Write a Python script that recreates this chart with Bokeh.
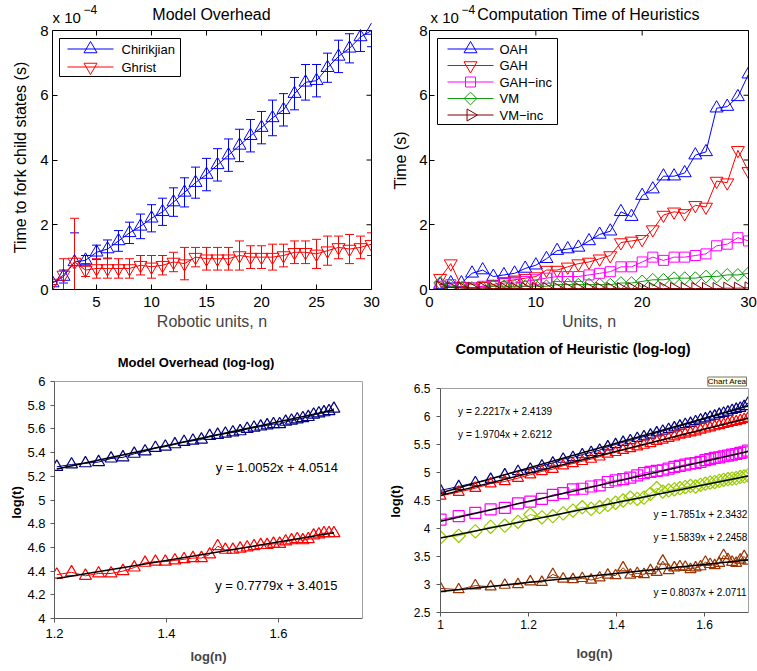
import math
from bokeh.plotting import figure
from bokeh.models import (ColumnDataSource, Whisker, TeeHead, Label, LinearAxis,
                          FixedTicker, CustomJSTickFormatter, Range1d)
from bokeh.layouts import column, row
from bokeh.embed import file_html
from bokeh.resources import INLINE

FONT = "Liberation Sans"

# ---------------- Model overhead (time in units of 1e-4 s) ----------------
units = list(range(1, 31))
chirikjian = [0.2, 0.4, 0.85, 0.9, 1.15, 1.25, 1.5, 1.75, 1.95, 2.2,
              2.4, 2.7, 3.0, 3.3, 3.55, 3.85, 4.15, 4.45, 4.75, 5.0,
              5.3, 5.55, 6.05, 6.4, 6.45, 6.85, 7.2, 7.45, 7.8, 8.0]
chirikjian_err = [0.05, 0.2, 0.9, 0.15, 0.22, 0.28, 0.32, 0.33, 0.38, 0.42,
                  0.42, 0.44, 0.45, 0.48, 0.5, 0.5, 0.5, 0.5, 0.5, 0.5,
                  0.55, 0.5, 0.5, 0.55, 0.5, 0.45, 0.5, 0.45, 0.45, 0.5]
ghrist = [0.2, 0.45, 0.85, 0.6, 0.65, 0.65, 0.65, 0.65, 0.75, 0.7,
          0.75, 0.85, 0.8, 1.0, 0.95, 0.95, 0.95, 1.05, 1.0, 1.0,
          1.0, 1.05, 1.15, 1.15, 1.1, 1.2, 1.3, 1.25, 1.3, 1.4]
ghrist_err = [0.05, 0.5, 1.35, 0.2, 0.3, 0.3, 0.3, 0.3, 0.3, 0.35,
              0.3, 0.3, 0.5, 0.3, 0.35, 0.35, 0.35, 0.45, 0.35, 0.35,
              0.4, 0.35, 0.35, 0.35, 0.45, 0.45, 0.35, 0.45, 0.35, 0.35]

# ---------------- Heuristic computation time (units of 1e-4 s) ----------------
oah = [0.15, 0.2, 0.2, 0.5, 0.6, 0.4, 0.45, 0.5, 0.65, 0.75,
       0.95, 1.2, 1.25, 1.3, 1.5, 1.7, 1.8, 2.4, 2.25, 2.9,
       3.1, 3.5, 3.5, 3.6, 4.15, 4.25, 5.6, 5.65, 5.95, 6.65]
gah = [0.35, 0.8, 0.1, 0.05, 0.1, 0.15, 0.25, 0.3, 0.35, 0.4,
       0.6, 0.6, 0.7, 0.8, 0.85, 0.95, 1.05, 1.45, 1.5, 1.55,
       1.85, 2.3, 2.4, 2.35, 2.6, 2.55, 3.35, 3.3, 4.3, 3.65]
gah_inc = [0.1, 0.15, 0.05, 0.05, 0.1, 0.1, 0.2, 0.2, 0.25, 0.3,
           0.35, 0.4, 0.4, 0.4, 0.45, 0.5, 0.55, 0.7, 0.7, 0.85,
           1.0, 0.9, 1.0, 1.0, 1.05, 1.1, 1.35, 1.4, 1.6, 1.5]
vm = [0.2, 0.1, 0.05, 0.05, 0.05, 0.1, 0.1, 0.1, 0.1, 0.1,
      0.1, 0.15, 0.15, 0.15, 0.15, 0.15, 0.15, 0.2, 0.2, 0.25,
      0.3, 0.3, 0.35, 0.35, 0.35, 0.4, 0.4, 0.45, 0.45, 0.5]
vm_inc = [0.08, 0.06, 0.05, 0.04, 0.04, 0.03, 0.03, 0.03, 0.03, 0.03,
          0.03, 0.03, 0.03, 0.03, 0.03, 0.03, 0.03, 0.03, 0.03, 0.03,
          0.03, 0.03, 0.03, 0.03, 0.03, 0.03, 0.03, 0.04, 0.04, 0.05]

# ---------------- Model overhead, log-log ----------------
ll_units_overhead = list(range(16, 51))
ll_chirikjian = [5.28, 5.30, 5.31, 5.32, 5.35, 5.36, 5.39, 5.41, 5.44, 5.45,
                 5.47, 5.49, 5.50, 5.51, 5.54, 5.55, 5.56, 5.57, 5.58, 5.60,
                 5.61, 5.62, 5.63, 5.64, 5.64, 5.66, 5.67, 5.68, 5.69, 5.70,
                 5.72, 5.73, 5.74, 5.75, 5.77]
ll_ghrist = [4.37, 4.39, 4.36, 4.38, 4.38, 4.40, 4.43, 4.47, 4.48, 4.48,
             4.49, 4.50, 4.51, 4.51, 4.54, 4.61, 4.58, 4.58, 4.59, 4.60,
             4.61, 4.62, 4.62, 4.63, 4.63, 4.65, 4.66, 4.67, 4.66, 4.67,
             4.70, 4.71, 4.72, 4.72, 4.72]
fit_chirikjian = (1.0052, 4.0514)
fit_ghrist = (0.7779, 3.4015)

# ---------------- Heuristic computation, log-log ----------------
ll_units_heur = list(range(10, 51))
ll_oah = [4.68, 4.75, 4.82, 4.88, 4.96, 5.02, 5.06, 5.12, 5.17, 5.24,
          5.27, 5.32, 5.36, 5.40, 5.46, 5.50, 5.54, 5.57, 5.61, 5.64,
          5.67, 5.71, 5.74, 5.77, 5.80, 5.83, 5.86, 5.88, 5.91, 5.94,
          5.96, 5.99, 6.01, 6.04, 6.06, 6.08, 6.11, 6.13, 6.15, 6.18, 6.24]
ll_gah = [4.58, 4.65, 4.72, 4.80, 4.84, 4.90, 4.96, 5.02, 5.06, 5.12,
          5.16, 5.20, 5.24, 5.28, 5.33, 5.36, 5.40, 5.43, 5.46, 5.49,
          5.52, 5.56, 5.58, 5.61, 5.64, 5.67, 5.69, 5.71, 5.73, 5.76,
          5.78, 5.80, 5.82, 5.84, 5.86, 5.88, 5.90, 5.91, 5.93, 5.95, 5.97]
ll_gah_inc = [4.16, 4.22, 4.28, 4.34, 4.37, 4.45, 4.48, 4.53, 4.60, 4.63,
              4.70, 4.71, 4.75, 4.77, 4.83, 4.86, 4.88, 4.91, 4.95, 4.99,
              5.01, 5.03, 5.04, 5.07, 5.10, 5.12, 5.14, 5.16, 5.17, 5.19,
              5.22, 5.24, 5.26, 5.27, 5.29, 5.30, 5.32, 5.33, 5.35, 5.36, 5.39]
ll_vm = [3.84, 3.87, 3.95, 4.03, 4.05, 4.12, 4.25, 4.20, 4.22, 4.27,
         4.32, 4.38, 4.35, 4.38, 4.42, 4.46, 4.50, 4.55, 4.53, 4.55,
         4.62, 4.72, 4.66, 4.68, 4.70, 4.72, 4.74, 4.76, 4.75, 4.78,
         4.80, 4.82, 4.83, 4.85, 4.87, 4.88, 4.89, 4.90, 4.92, 4.93, 4.95]
ll_vm_inc = [2.93, 2.91, 2.98, 2.96, 2.99, 3.00, 3.05, 3.04, 3.18, 3.10,
             3.09, 3.11, 3.08, 3.12, 3.17, 3.16, 3.30, 3.17, 3.20, 3.18,
             3.25, 3.22, 3.42, 3.25, 3.30, 3.32, 3.31, 3.27, 3.30, 3.32,
             3.40, 3.36, 3.34, 3.38, 3.52, 3.45, 3.40, 3.38, 3.44, 3.50, 3.42]
fit_oah = (2.2217, 2.4139)
fit_gah = (1.9704, 2.6212)
fit_gah_inc = (1.7851, 2.3432)
fit_vm = (1.5839, 2.2458)
fit_vm_inc = (0.8037, 2.0711)

TICK_FMT = CustomJSTickFormatter(code="return String(Math.round(tick * 10) / 10);")


class Panel:
    """One chart: a narrow strip holding the y-axis title, next to a figure whose frame
    reaches the top of its canvas so that the title texts sit inside it.  The visible
    axes box spans (x0..x1, y0..y1) at panel pixels (L, R, T, B)."""

    def __init__(self, w, h, lw, xr, yr, L, R, T, B):
        self.x0, self.x1 = xr
        self.y0, self.y1 = yr
        self.L, self.R, self.T, self.B = L, R, T, B
        ytop = self.y1 + T * (self.y1 - self.y0) / (B - T)
        self.p = figure(width=w - lw, height=h, x_range=xr, y_range=(self.y0, ytop),
                        output_backend="svg", toolbar_location=None,
                        min_border_left=L - lw, min_border_right=w - R,
                        min_border_top=0, min_border_bottom=h - B)
        self.s = figure(width=lw, height=h, x_range=Range1d(0, lw), y_range=Range1d(0, B),
                        output_backend="svg", toolbar_location=None, x_axis_type=None,
                        y_axis_type=None, min_border_left=0, min_border_right=0,
                        min_border_top=0, min_border_bottom=h - B)
        self.Bpx = B
        for f in (self.p, self.s):
            f.title.visible = False
            f.xgrid.visible = False
            f.ygrid.visible = False
            f.outline_line_color = None
            f.background_fill_color = "white"
            f.border_fill_color = "white"
        self.layout = row(self.s, self.p, spacing=0)

    def dx(self, px):
        return self.x0 + (px - self.L) * (self.x1 - self.x0) / (self.R - self.L)

    def dy(self, py):
        return self.y0 + (self.B - py) * (self.y1 - self.y0) / (self.B - self.T)

    def ytitle(self, px, py, text, size, style):
        self.s.add_layout(Label(x=px, y=self.Bpx - py, text=text, text_font=FONT,
                                text_font_size=size, text_font_style=style,
                                text_align="center", text_baseline="middle",
                                angle=math.pi / 2, text_color="black"))

    def text(self, px, py, text, size, align="left", style="normal", **kw):
        self.p.add_layout(Label(x=self.dx(px), y=self.dy(py), text=text, text_font=FONT,
                                text_font_size=size, text_font_style=style,
                                text_align=align, text_baseline="middle",
                                text_color="black", **kw))

    def data_text(self, x, y, text, size):
        self.p.add_layout(Label(x=x, y=y, text=text, text_font=FONT, text_font_size=size,
                                text_align="left", text_baseline="middle",
                                text_color="black"))

    def box(self, xticks, yticks, size, color, tick_in, tick_out, xstand, ystand,
            xlabel, lab_size, lab_style, xlab_stand):
        p = self.p
        for ax, ticks, stand in ((p.xaxis[0], xticks, xstand), (p.yaxis[0], yticks, ystand)):
            ax.ticker = FixedTicker(ticks=ticks)
            ax.formatter = TICK_FMT
            ax.major_label_text_font = FONT
            ax.major_label_text_font_size = size
            ax.major_label_text_color = "black"
            ax.axis_line_color = color
            ax.major_tick_line_color = color
            ax.major_tick_in = tick_in
            ax.major_tick_out = tick_out
            ax.minor_tick_line_color = None
            ax.major_label_standoff = stand
        xa = p.xaxis[0]
        xa.axis_label = xlabel
        xa.axis_label_text_font = FONT
        xa.axis_label_text_font_size = lab_size
        xa.axis_label_text_font_style = lab_style
        xa.axis_label_standoff = xlab_stand
        p.yaxis[0].bounds = (self.y0, self.y1)

    def edges(self, color, xticks=None, yticks=None):
        """Right and top edges of the axes box, with optional inward tick marks."""
        p = self.p
        right = LinearAxis(ticker=FixedTicker(ticks=[]), bounds=(self.y0, self.y1),
                           axis_line_color=color, major_tick_line_color=None,
                           minor_tick_line_color=None)
        p.add_layout(right, "right")
        p.segment(x0=[self.x0], y0=[self.y1], x1=[self.x1], y1=[self.y1],
                  line_color=color, line_width=1)
        if yticks:
            p.scatter([self.x1] * len(yticks), yticks, marker="dash", size=10,
                      line_color=color, line_width=1)
        if xticks:
            half = self.y1 - self.dy(self.T + 2.5)
            p.scatter(xticks, [self.y1 - half] * len(xticks), marker="dash",
                      angle=math.pi / 2, size=5, line_color=color, line_width=1)

    def legend(self, box, rows, line_px, text_px, entries):
        l, t, r, b = box
        p = self.p
        p.quad(left=[self.dx(l)], right=[self.dx(r)], top=[self.dy(t)], bottom=[self.dy(b)],
               fill_color="white", line_color="black", line_width=1)
        xm = self.dx((line_px[0] + line_px[1]) / 2)
        for (label, col, mk, sz, ang), yc in zip(entries, rows):
            y = self.dy(yc)
            p.line([self.dx(line_px[0]), self.dx(line_px[1])], [y, y], line_color=col,
                   line_width=1)
            p.scatter([xm], [y], marker=mk, size=sz, angle=ang, line_color=col,
                      fill_color=None, line_width=1)
            self.text(text_px, yc, label, "13px")


# ================= Panel 1: Model Overhead =================
a1 = Panel(380, 340, 30, (1, 30), (0, 8), 52, 371, 30, 289)
a1.box([5, 10, 15, 20, 25, 30], [0, 2, 4, 6, 8], "15px", "black", 5, 0, 7, 4,
       "Robotic units, n", "16px", "normal", 3)
a1.edges("black", [5, 10, 15, 20, 25, 30], [0, 2, 4, 6, 8])
a1.ytitle(20, 157, "Time to fork child states (s)", "16px", "normal")
a1.text(52, 17, "x 10", "15px")
a1.text(83, 9, "\u22124", "12px")
a1.text(211, 13.5, "Model Overhead", "16px", align="center")

series1 = [("Chirikjian", chirikjian, chirikjian_err, "#0000ff", "triangle"),
           ("Ghrist", ghrist, ghrist_err, "#ff0000", "inverted_triangle")]
for name, vals, errs, col, mk in series1:
    src = ColumnDataSource(dict(n=units, v=vals,
                                lo=[max(0.0, a - e) for a, e in zip(vals, errs)],
                                hi=[min(8.0, a + e) for a, e in zip(vals, errs)]))
    a1.p.add_layout(Whisker(source=src, base="n", lower="lo", upper="hi", dimension="height",
                            line_color=col, line_width=1,
                            upper_head=TeeHead(size=9, line_color=col, line_width=1),
                            lower_head=TeeHead(size=9, line_color=col, line_width=1)))
    a1.p.line("n", "v", source=src, line_color=col, line_width=1)
    a1.p.scatter("n", "v", source=src, marker=mk, size=13, line_color=col,
                 fill_color=None, line_width=1)
a1.legend((59, 38, 180, 76), [48.5, 66.5], (67, 113), 121,
          [(s[0], s[3], s[4], 13, 0.0) for s in series1])

# ================= Panel 2: Computation Time of Heuristics =================
a2 = Panel(377, 340, 30, (0, 30), (0, 8), 49, 368, 30, 289)
a2.box([0, 10, 20, 30], [0, 2, 4, 6, 8], "15px", "black", 5, 0, 7, 2,
       "Units, n", "16px", "normal", 3)
a2.edges("black", [0, 10, 20, 30], [0, 2, 4, 6, 8])
a2.ytitle(20, 160, "Time (s)", "16px", "normal")
a2.text(50, 17, "x 10", "15px")
a2.text(81, 9, "\u22124", "12px")
a2.text(208, 13.5, "Computation Time of Heuristics", "16px", align="center")

series2 = [("OAH", oah, "#0000ff", "triangle", 13, 0.0),
           ("GAH", gah, "#ff0000", "inverted_triangle", 13, 0.0),
           ("GAH\u2212inc", gah_inc, "#ff00ff", "square", 10, 0.0),
           ("VM", vm, "#109a10", "square", 9, math.pi / 4),
           ("VM\u2212inc", vm_inc, "#800000", "triangle", 12, -math.pi / 2)]
for name, vals, col, mk, sz, ang in series2:
    src = ColumnDataSource(dict(n=units, v=vals))
    a2.p.line("n", "v", source=src, line_color=col, line_width=1)
    a2.p.scatter("n", "v", source=src, marker=mk, size=sz, angle=ang, line_color=col,
                 fill_color=None, line_width=1)
a2.legend((57, 38, 177, 124), [48.5, 65, 81.5, 98, 114.5], (67, 113), 119,
          [(s[0], s[2], s[3], s[4], s[5]) for s in series2])


# ================= Excel-style log-log panels =================
def loglog_series(p, ns, vals, col, mk, sz, fit, ang=0.0):
    xs = [math.log10(n) for n in ns]
    p.line(xs, vals, line_color=col, line_width=1)
    p.scatter(xs, vals, marker=mk, size=sz, angle=ang, line_color=col, fill_color=None,
              line_width=1.2)
    a, b = fit
    ends = [xs[0], xs[-1]]
    p.line(ends, [a * x + b for x in ends], line_color="black", line_width=1.5)


def eq_text(fit):
    return "y = %.4fx + %.4f" % fit


# ---- Panel 3: Model Overhead (log-log)
a3 = Panel(380, 331, 24, (1.2, 1.75), (4, 6), 53, 362, 41, 278)
a3.box([1.2, 1.4, 1.6], [4 + 0.2 * i for i in range(11)], "13px", "#595959", 0, 4, 6, 5,
       "log(n)", "13px", "bold", 8)
a3.edges("#a0a0a0")
a3.ytitle(16, 162, "log(t)", "13px", "bold")
a3.text(195, 22, "Model Overhead (log-log)", "13px", align="center", style="bold")
loglog_series(a3.p, ll_units_overhead, ll_chirikjian, "#000080", "triangle", 12, fit_chirikjian)
loglog_series(a3.p, ll_units_overhead, ll_ghrist, "#ff0000", "triangle", 12, fit_ghrist)
a3.data_text(1.488, 5.274, eq_text(fit_chirikjian), "13px")
a3.data_text(1.487, 4.28, eq_text(fit_ghrist), "13px")

# ---- Panel 4: Computation of Heuristic (log-log)
a4 = Panel(377, 331, 30, (1.0, 1.7), (2.5, 6.5), 59, 368, 48, 272)
a4.box([1.0, 1.2, 1.4, 1.6], [2.5 + 0.5 * i for i in range(9)], "12px", "#595959", 0, 4, 3, 6,
       "log(n)", "13px", "bold", 14)
a4.edges("#a0a0a0")
a4.ytitle(15, 161, "log(t)", "13px", "bold")
a4.text(192, 8, "Computation of Heuristic (log-log)", "14.5px", align="center", style="bold")
a4.text(366, 41, "Chart Area", "8px", align="right",
        background_fill_color="#ffffe1", border_line_color="#767676", border_line_width=1)
loglog_series(a4.p, ll_units_heur, ll_oah, "#000080", "triangle", 11, fit_oah)
loglog_series(a4.p, ll_units_heur, ll_gah, "#ff0000", "triangle", 11, fit_gah)
loglog_series(a4.p, ll_units_heur, ll_gah_inc, "#ff00ff", "square", 11, fit_gah_inc)
loglog_series(a4.p, ll_units_heur, ll_vm, "#99cc00", "square", 9.5, fit_vm, math.pi / 4)
loglog_series(a4.p, ll_units_heur, ll_vm_inc, "#993300", "triangle", 11, fit_vm_inc)
a4.data_text(1.040, 6.095, eq_text(fit_oah), "10px")
a4.data_text(1.040, 5.68, eq_text(fit_gah), "10px")
a4.data_text(1.484, 4.25, eq_text(fit_gah_inc), "10px")
a4.data_text(1.484, 3.834, eq_text(fit_vm), "10px")
a4.data_text(1.484, 2.863, eq_text(fit_vm_inc), "10px")

layout = column(row(a1.layout, a2.layout, spacing=0),
                row(a3.layout, a4.layout, spacing=0), spacing=0)
open("out.html", "w").write(file_html(layout, INLINE))
